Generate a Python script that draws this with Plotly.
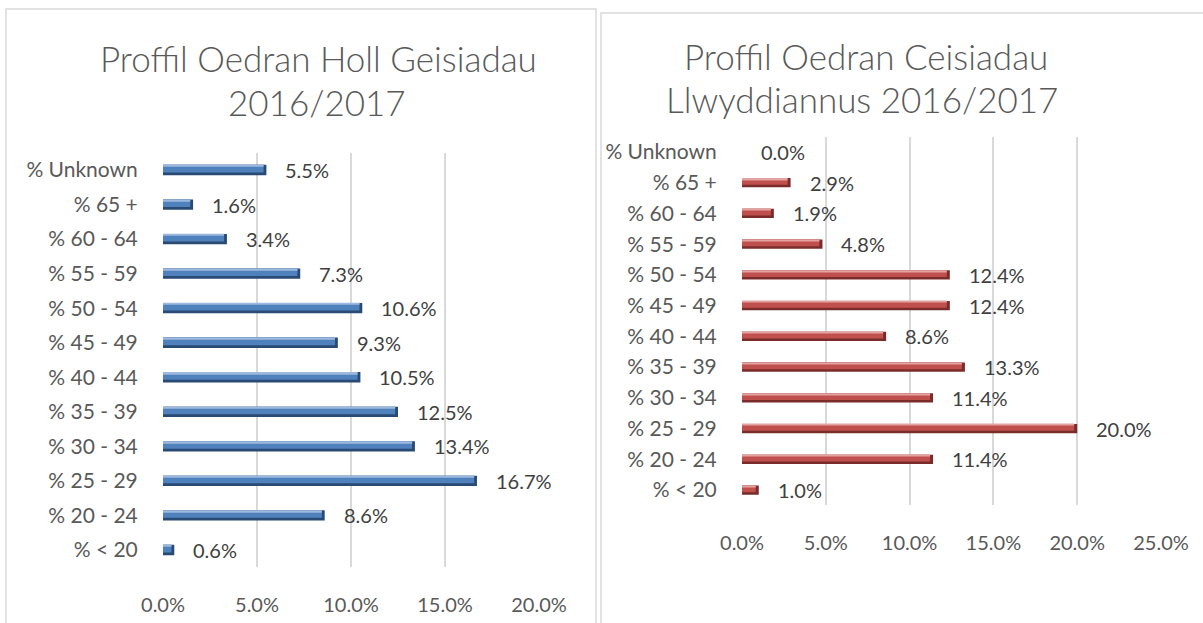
import plotly.graph_objects as go

W, H = 1203, 623

categories = ["% < 20", "% 20 - 24", "% 25 - 29", "% 30 - 34", "% 35 - 39", "% 40 - 44",
              "% 45 - 49", "% 50 - 54", "% 55 - 59", "% 60 - 64", "% 65 +", "% Unknown"]
all_values = [0.6, 8.6, 16.7, 13.4, 12.5, 10.5, 9.3, 10.6, 7.3, 3.4, 1.6, 5.5]
success_values = [1.0, 11.4, 20.0, 11.4, 13.3, 8.6, 12.4, 12.4, 4.8, 1.9, 2.9, 0.0]
left_ticks = [0, 5, 10, 15, 20]
right_ticks = [0, 5, 10, 15, 20, 25]
left_title = ["Proffil Oedran Holl Geisiadau", "2016/2017"]
right_title = ["Proffil Oedran Ceisiadau", "Llwyddiannus 2016/2017"]

FONT = "Lato"
TICK_COLOR = "#595959"
LABEL_COLOR = "#404040"
GRID = "#D9D9D9"


def px_x(p):
    return p / W


def px_y(p):
    return 1 - p / H


fig = go.Figure()


def add_bars(values, xa, ya, dark, mid, light, cap):
    # dark base (bottom edge + end cap)
    fig.add_trace(go.Bar(
        x=values, y=categories, orientation="h", width=0.30, offset=-0.15,
        marker=dict(color=dark, line=dict(width=0)),
        xaxis=xa, yaxis=ya, hoverinfo="x+y", showlegend=False))
    # main body, slightly shorter to leave the dark end cap
    fig.add_trace(go.Bar(
        x=[max(v - cap, 0) for v in values], y=categories, orientation="h", width=0.22, offset=-0.07,
        marker=dict(color=mid, line=dict(width=0)),
        xaxis=xa, yaxis=ya, hoverinfo="skip", showlegend=False))
    # light top highlight
    fig.add_trace(go.Bar(
        x=[max(v - cap, 0) for v in values], y=categories, orientation="h", width=0.05, offset=0.10,
        marker=dict(color=light, line=dict(width=0)),
        xaxis=xa, yaxis=ya, hoverinfo="skip", showlegend=False))


add_bars(all_values, "x", "y", "#294A73", "#4F81BD", "#9DB9DD", 0.15)
add_bars(success_values, "x2", "y2", "#7A2C2A", "#C0504D", "#E3A3A1", 0.18)

annotations = []
for c, v in zip(categories, all_values):
    annotations.append(dict(x=v, y=c, xref="x", yref="y", text=f"{v:.1f}%", showarrow=False,
                            xanchor="left", xshift=17, font=dict(family=FONT, size=20, color=LABEL_COLOR)))
for c, v in zip(categories, success_values):
    annotations.append(dict(x=v, y=c, xref="x2", yref="y2", text=f"{v:.1f}%", showarrow=False,
                            xanchor="left", xshift=17, font=dict(family=FONT, size=20, color=LABEL_COLOR)))

title_font = dict(family=FONT, size=35, color=TICK_COLOR, weight=300)
annotations += [
    dict(x=px_x(318), y=px_y(58), xref="paper", yref="paper", text=left_title[0], showarrow=False,
         xanchor="center", yanchor="middle", font=title_font),
    dict(x=px_x(317), y=px_y(102), xref="paper", yref="paper", text=left_title[1], showarrow=False,
         xanchor="center", yanchor="middle", font=title_font),
    dict(x=px_x(866), y=px_y(56), xref="paper", yref="paper", text=right_title[0], showarrow=False,
         xanchor="center", yanchor="middle", font=title_font),
    dict(x=px_x(862), y=px_y(99), xref="paper", yref="paper", text=right_title[1], showarrow=False,
         xanchor="center", yanchor="middle", font=title_font),
]

shapes = [
    dict(type="rect", xref="paper", yref="paper", x0=px_x(6), x1=px_x(596), y0=px_y(640), y1=px_y(9),
         line=dict(color=GRID, width=1.5), fillcolor="rgba(0,0,0,0)", layer="below"),
    dict(type="rect", xref="paper", yref="paper", x0=px_x(601), x1=px_x(1215), y0=px_y(640), y1=px_y(13),
         line=dict(color=GRID, width=1.5), fillcolor="rgba(0,0,0,0)", layer="below"),
]

axis_common = dict(showgrid=True, gridcolor=GRID, gridwidth=1.5, zeroline=False, showline=False,
                   ticks="outside", ticklen=20, tickcolor="rgba(0,0,0,0)", automargin=False,
                   tickfont=dict(family=FONT, size=20, color=TICK_COLOR), fixedrange=True)
yaxis_common = dict(showgrid=False, zeroline=False, showline=False, type="category",
                    ticks="outside", ticklen=20, tickcolor="rgba(0,0,0,0)", automargin=False,
                    tickfont=dict(family=FONT, size=21, color=TICK_COLOR),
                    range=[-0.5, 11.5], fixedrange=True)

fig.update_layout(
    width=W, height=H, autosize=False,
    margin=dict(l=0, r=0, t=0, b=0, pad=0),
    paper_bgcolor="white", plot_bgcolor="rgba(0,0,0,0)",
    barmode="overlay",
    xaxis=dict(domain=[px_x(163), px_x(539)], range=[0, 20], anchor="y",
               tickvals=left_ticks, ticktext=[f"{t:.1f}%" for t in left_ticks], **axis_common),
    yaxis=dict(domain=[px_y(567.25), px_y(152.75)], anchor="x", **yaxis_common),
    xaxis2=dict(domain=[px_x(742), px_x(1161)], range=[0, 25], anchor="y2",
                tickvals=right_ticks, ticktext=[f"{t:.1f}%" for t in right_ticks], **axis_common),
    yaxis2=dict(domain=[px_y(505.4), px_y(136.6)], anchor="x2", **yaxis_common),
    annotations=annotations,
    shapes=shapes,
)

fig.write_html("out.html", config={"displayModeBar": False},
               post_script="document.body.style.margin='0';document.body.style.overflow='hidden';")
